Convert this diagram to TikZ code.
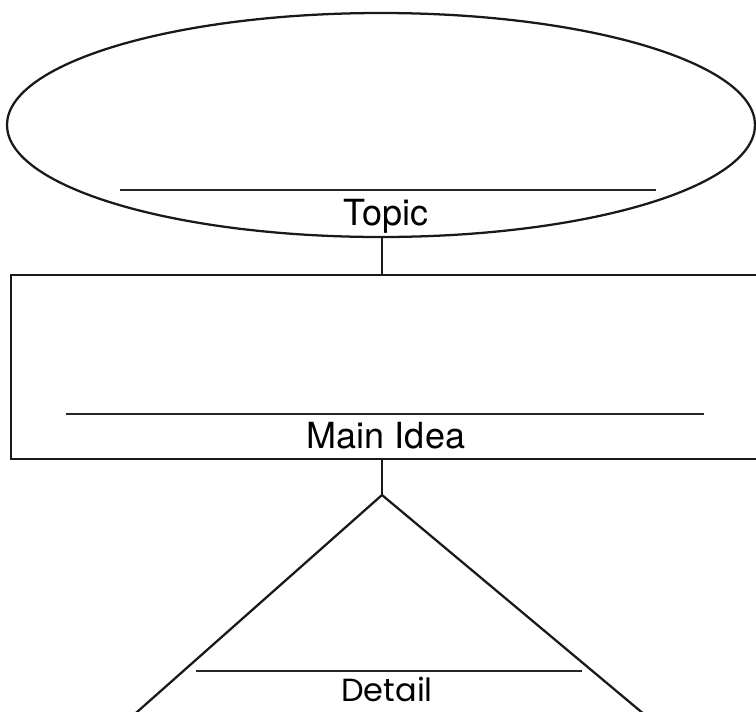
\documentclass[tikz,border=0pt]{standalone}
\usepackage{fontspec}
\setmainfont{TeX Gyre Heros}
\newfontfamily\detailfont{Poppins}
\usetikzlibrary{shapes.geometric,positioning}

\tikzset{
    shapeline/.style={line width=1.7pt,draw=black!90},
    labelline/.style={line width=2pt,draw=black!85},
    labeltext/.style={anchor=base,inner sep=0pt,font=\fontsize{27}{31}\selectfont}
}

\begin{document}
\begin{tikzpicture}[x=0.75pt,y=-0.75pt]
    \useasboundingbox (0,0) rectangle (756,711);
    \clip (0,0) rectangle (756,711);

    % topic
    \node[ellipse,shapeline,minimum width=561pt,minimum height=168pt,inner sep=0pt] (topic) at (381,125) {};
    \draw[labelline] (120,190) -- (656,190);
    \node[labeltext] (topiclabel) at (386,225) {Topic};

    % main idea
    \node[rectangle,shapeline,minimum width=569.25pt,minimum height=138pt,inner sep=0pt] (mainidea) at (390.5,367) {};
    \draw[labelline] (66,414) -- (704,414);
    \node[labeltext] (mainidealabel) at (386,448) {Main Idea};

    % detail
    \newcommand{\DTX}{382}
    \newcommand{\DTY}{495}
    \coordinate (apex) at (\DTX,\DTY);
    \coordinate (baseleft) at (\DTX-254,720);
    \coordinate (baseright) at (\DTX+269,720);
    \draw[shapeline] (baseleft) -- (apex) -- (baseright);
    \draw[labelline] (196,671) -- (582,671);
    \node[labeltext,font=\detailfont\fontsize{24}{28}\selectfont] (detaillabel) at (387,701) {Detail};

    \draw[shapeline] (topic.south -| apex) -- (mainidea.north -| apex);
    \draw[shapeline] (mainidea.south -| apex) -- (apex);
  \end{tikzpicture}
\end{document}
